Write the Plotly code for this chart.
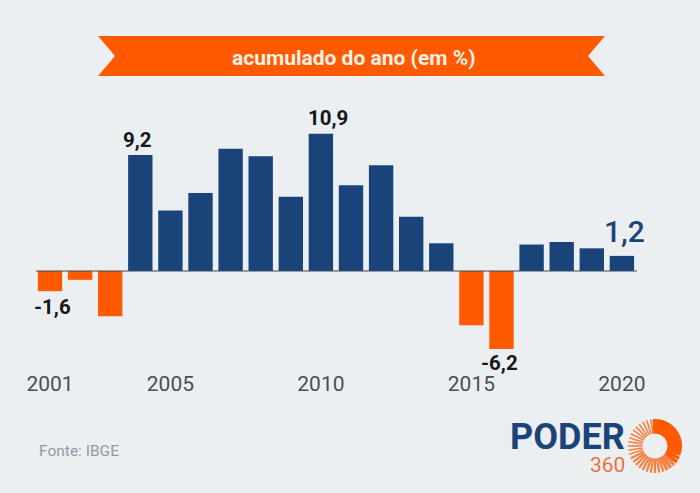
import numpy as np
import plotly.graph_objects as go

years = list(range(2001, 2021))
values = [-1.6, -0.7, -3.6, 9.2, 4.8, 6.2, 9.7, 9.1, 5.9, 10.9, 6.8, 8.4, 4.3, 2.2, -4.3, -6.2, 2.1, 2.3, 1.8, 1.2]
tick_years = [2001, 2005, 2010, 2015, 2020]
title_text = "acumulado do ano (em %)"
labelled = {2004: "9,2", 2010: "10,9", 2001: "-1,6", 2016: "-6,2"}

W, H = 700, 493
BG, BLUE, ORANGE = "#eceff2", "#1a4479", "#ff5a00"
FONT = "Roboto"

def px(x): return x / W
def py(y): return 1 - y / H

fig = go.Figure(go.Bar(
    x=years, y=values, width=0.81,
    marker=dict(color=[BLUE if v >= 0 else ORANGE for v in values], line_width=0),
    hoverinfo="skip",
))

shapes = [
    dict(type="line", xref="paper", yref="y", x0=px(36), x1=px(637), y0=0, y1=0,
         line=dict(color="#3c4a5c", width=1.2)),
    dict(type="path", xref="paper", yref="paper", fillcolor=ORANGE, line_width=0,
         path=" ".join([
             f"M {px(98)} {py(36)}", f"L {px(605)} {py(36)}", f"L {px(588)} {py(56)}",
             f"L {px(605)} {py(76)}", f"L {px(98)} {py(76)}", f"L {px(115)} {py(56)}", "Z"])),
]

# logo sunburst: rays grow thinner clockwise from the top
cx, cy, r0, r1 = 655, 446, 12.5, 27
for a in range(0, 360, 9):
    t = np.radians(a)
    width = 4.6 if a <= 100 else 3.2 if a <= 160 else 2.2 if a <= 250 else 1.6
    shapes.append(dict(
        type="line", xref="paper", yref="paper",
        x0=px(cx + r0 * np.sin(t)), y0=py(cy - r0 * np.cos(t)),
        x1=px(cx + r1 * np.sin(t)), y1=py(cy - r1 * np.cos(t)),
        line=dict(color=ORANGE if a <= 130 else "#f5813f", width=width)))

ann = []
offsets = {2004: (-3, 15), 2010: (7, 16), 2001: (2, -16), 2016: (-2, -14)}
for yr, txt in labelled.items():
    v = values[years.index(yr)]
    dx, dy = offsets[yr]
    ann.append(dict(x=yr, y=v, text=f"<b>{txt}</b>", showarrow=False, xshift=dx, yshift=dy,
                    font=dict(family=FONT, size=20.5, color="#15171a")))
ann.append(dict(x=2020, y=values[-1], text="1,2", showarrow=False, xshift=3, yshift=24,
                font=dict(family=FONT, size=30, color=BLUE, weight=500)))


def paper_text(x, y, text, family, size, color, anchor="center"):
    return dict(xref="paper", yref="paper", x=px(x), y=py(y), text=text, showarrow=False,
                xanchor=anchor, yanchor="middle", font=dict(family=family, size=size, color=color))

ann += [
    paper_text(354, 58, f"<b>{title_text}</b>", FONT, 21, "#fdf1e6"),
    paper_text(37, 451, "Fonte: IBGE", FONT, 15.5, "#8f9ba6", "left"),
    paper_text(567, 437, "<b>PODER</b>", FONT, 36, BLUE),
    paper_text(607, 465, "360", FONT, 21, "#f0703a"),
]

plot_bottom = 360
zero_y, scale = 271, 12.6
fig.update_layout(
    width=W, height=H, autosize=False,
    margin=dict(l=0, r=0, t=0, b=0, pad=0),
    paper_bgcolor=BG, plot_bgcolor=BG, showlegend=False,
    xaxis=dict(range=[2001 - 50 / 30.1, 2001 + 650 / 30.1], tickmode="array",
               tickvals=tick_years, ticktext=[str(y) for y in tick_years],
               showgrid=False, zeroline=False, showline=False, ticks="outside",
               ticklen=5, tickcolor="rgba(0,0,0,0)",
               tickfont=dict(family=FONT, size=21, color="#4a4e54")),
    yaxis=dict(domain=[(H - plot_bottom) / H, 1],
               range=[-(plot_bottom - zero_y) / scale, zero_y / scale],
               visible=False),
    shapes=shapes, annotations=ann,
)
fig.write_html("out.html", config={"displayModeBar": False},
               post_script="document.body.style.margin='0';document.body.style.background='#eceff2';document.documentElement.style.overflow='hidden';")
